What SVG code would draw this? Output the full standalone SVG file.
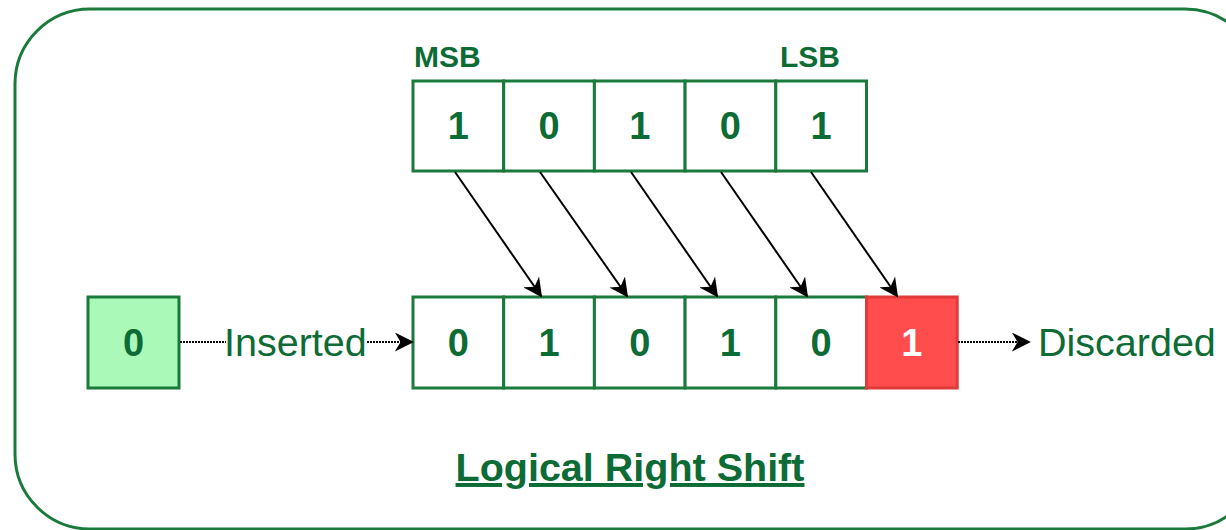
<svg xmlns="http://www.w3.org/2000/svg" width="1226" height="530" viewBox="0 0 1226 530">
<defs>
<style>
.cell{fill:#ffffff;stroke:#1a7a3c;stroke-width:3}
.dig{font-family:"Liberation Sans",Arial,sans-serif;font-weight:bold;font-size:38px;fill:#0d6b35;text-anchor:middle}
.lbl{font-family:"Liberation Sans",Arial,sans-serif;font-size:39.5px;fill:#0d6b35}
.hdr{font-family:"Liberation Sans",Arial,sans-serif;font-weight:bold;font-size:30px;fill:#0d6b35}
.arr{stroke:#000;stroke-width:2;fill:none}
.dot{stroke:#000;stroke-width:2;fill:none;stroke-dasharray:2 1}
</style>
<marker id="ah2" viewBox="0 0 10 10" refX="9" refY="5" markerWidth="19" markerHeight="19" markerUnits="userSpaceOnUse" orient="auto">
<path d="M0,0 L10,5 L0,10 L3,5 Z" fill="#000"/>
</marker>
</defs>
<rect id="frame" x="15" y="9" width="1245" height="520" rx="75" ry="75" fill="#ffffff" stroke="#1a7a3c" stroke-width="3"/>
<g id="top-row">
<text class="hdr" x="414" y="67">MSB</text>
<text class="hdr" x="780" y="67">LSB</text>
<g id="t0"><rect class="cell" x="413" y="81" width="90.7" height="90"/><text class="dig" x="458.3" y="139">1</text></g>
<g id="t1"><rect class="cell" x="503.7" y="81" width="90.7" height="90"/><text class="dig" x="549" y="139">0</text></g>
<g id="t2"><rect class="cell" x="594.4" y="81" width="90.7" height="90"/><text class="dig" x="639.7" y="139">1</text></g>
<g id="t3"><rect class="cell" x="685.1" y="81" width="90.7" height="90"/><text class="dig" x="730.4" y="139">0</text></g>
<g id="t4"><rect class="cell" x="775.8" y="81" width="90.7" height="90"/><text class="dig" x="821.1" y="139">1</text></g>
</g>
<g id="inserted-bit"><rect x="88" y="297" width="91" height="91" fill="#aaf9b8" stroke="#1a7a3c" stroke-width="3"/><text class="dig" x="133.5" y="356">0</text></g>
<g id="bottom-row">
<g id="b0"><rect class="cell" x="413" y="297" width="90.7" height="91"/><text class="dig" x="458.3" y="356">0</text></g>
<g id="b1"><rect class="cell" x="503.7" y="297" width="90.7" height="91"/><text class="dig" x="549" y="356">1</text></g>
<g id="b2"><rect class="cell" x="594.4" y="297" width="90.7" height="91"/><text class="dig" x="639.7" y="356">0</text></g>
<g id="b3"><rect class="cell" x="685.1" y="297" width="90.7" height="91"/><text class="dig" x="730.4" y="356">1</text></g>
<g id="b4"><rect class="cell" x="775.8" y="297" width="90.7" height="91"/><text class="dig" x="821.1" y="356">0</text></g>
<g id="b5"><rect x="866.5" y="297" width="90.7" height="91" fill="#ff4d4d" stroke="#e03a3a" stroke-width="3"/><text class="dig" x="911.8" y="356" style="fill:#ffffff">1</text></g>
</g>
<g id="connectors">
<line class="arr" x1="455" y1="172" x2="541" y2="296" marker-end="url(#ah2)"/>
<line class="arr" x1="540" y1="172" x2="627" y2="296" marker-end="url(#ah2)"/>
<line class="arr" x1="631" y1="172" x2="717" y2="296" marker-end="url(#ah2)"/>
<line class="arr" x1="721" y1="172" x2="807" y2="296" marker-end="url(#ah2)"/>
<line class="arr" x1="811" y1="172" x2="897" y2="296" marker-end="url(#ah2)"/>
<line class="dot" x1="180" y1="342" x2="226" y2="342"/>
<line class="dot" x1="367" y1="342" x2="412" y2="342" marker-end="url(#ah2)"/>
<line class="dot" x1="958" y1="342" x2="1029" y2="342" marker-end="url(#ah2)"/>
</g>
<g id="labels">
<text class="lbl" x="224" y="356">Inserted</text>
<text class="lbl" x="1038" y="356">Discarded</text>
<text class="lbl" x="630" y="481" text-anchor="middle" style="font-weight:bold;text-decoration:underline">Logical Right Shift</text>
</g>
</svg>
